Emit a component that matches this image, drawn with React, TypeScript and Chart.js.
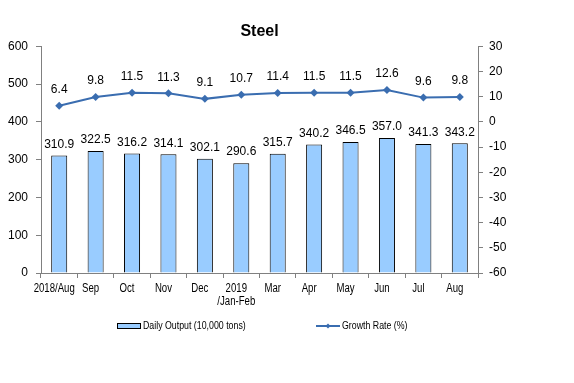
import React, { useEffect, useRef } from "react";
import { Chart, registerables } from "chart.js";

Chart.register(...registerables);

const categories: (string | string[])[] = [
  "2018/Aug", "Sep", "Oct", "Nov", "Dec", ["2019", "/Jan-Feb"],
  "Mar", "Apr", "May", "Jun", "Jul", "Aug",
];
const dailyOutput = [310.9, 322.5, 316.2, 314.1, 302.1, 290.6, 315.7, 340.2, 346.5, 357.0, 341.3, 343.2];
const growthRate = [6.4, 9.8, 11.5, 11.3, 9.1, 10.7, 11.4, 11.5, 11.5, 12.6, 9.6, 9.8];
const barLabel = "Daily Output (10,000 tons)";
const lineLabel = "Growth Rate (%)";

const FONT = "Arial, 'Liberation Sans', sans-serif";
const BAR_COLOR = "#99CCFF";
const LINE_COLOR = "#3A6DB0";
const CONDENSE = 0.8;

function drawCondensed(ctx: any, text: string, x: number, y: number, align: "left" | "center") {
  ctx.save();
  ctx.translate(x, y);
  ctx.scale(CONDENSE, 1);
  ctx.textAlign = align;
  ctx.fillText(text, 0, 0);
  ctx.restore();
}

const labelsPlugin = {
  id: "valueLabels",
  afterDatasetsDraw(chart: any) {
    const ctx = chart.ctx;
    ctx.save();
    ctx.fillStyle = "#000";
    ctx.font = `12px ${FONT}`;
    ctx.textAlign = "center";
    ctx.textBaseline = "middle";
    const barMeta = chart.getDatasetMeta(0);
    barMeta.data.forEach((el: any, i: number) => {
      ctx.fillText(dailyOutput[i].toFixed(1), el.x, el.y - 11);
    });
    const lineMeta = chart.getDatasetMeta(1);
    lineMeta.data.forEach((el: any, i: number) => {
      ctx.fillText(growthRate[i].toFixed(1), el.x, el.y - 16);
    });
    // category labels (condensed, like the original)
    const xs = chart.scales.x;
    ctx.font = `12px ${FONT}`;
    categories.forEach((lab, i) => {
      const lines = Array.isArray(lab) ? lab : [lab];
      const cx = xs.getPixelForTick(i) - 5;
      lines.forEach((ln, j) => {
        drawCondensed(ctx, ln, cx, xs.top + 16 + j * 13, "center");
      });
    });
    ctx.restore();
  },
};

const legendPlugin = {
  id: "customLegend",
  afterDraw(chart: any) {
    const ctx = chart.ctx;
    ctx.save();
    const y = 326;
    ctx.fillStyle = BAR_COLOR;
    ctx.strokeStyle = "#000";
    ctx.lineWidth = 1;
    ctx.fillRect(117.5, y - 2.5, 23, 5);
    ctx.strokeRect(117.5, y - 2.5, 23, 5);
    ctx.fillStyle = "#000";
    ctx.font = `11px ${FONT}`;
    ctx.textBaseline = "middle";
    drawCondensed(ctx, barLabel, 143, y, "left");
    ctx.strokeStyle = LINE_COLOR;
    ctx.lineWidth = 2;
    ctx.beginPath();
    ctx.moveTo(316, y);
    ctx.lineTo(340, y);
    ctx.stroke();
    ctx.fillStyle = LINE_COLOR;
    ctx.beginPath();
    ctx.moveTo(328, y - 2.5);
    ctx.lineTo(330.5, y);
    ctx.lineTo(328, y + 2.5);
    ctx.lineTo(325.5, y);
    ctx.closePath();
    ctx.fill();
    ctx.fillStyle = "#000";
    drawCondensed(ctx, lineLabel, 342, y, "left");
    ctx.restore();
  },
};

export default function App() {
  const ref = useRef<HTMLCanvasElement>(null);
  useEffect(() => {
    if (!ref.current) return;
    const chart = new Chart(ref.current, {
      data: {
        labels: categories,
        datasets: [
          {
            type: "bar",
            label: barLabel,
            data: dailyOutput,
            backgroundColor: BAR_COLOR,
            borderColor: "#000",
            borderWidth: 1,
            barPercentage: 0.44,
            categoryPercentage: 1,
            yAxisID: "y",
            order: 2,
          },
          {
            type: "line",
            label: lineLabel,
            data: growthRate,
            borderColor: LINE_COLOR,
            backgroundColor: LINE_COLOR,
            borderWidth: 2,
            pointStyle: "rectRot",
            pointRadius: 4,
            pointBorderWidth: 0,
            yAxisID: "y1",
            order: 1,
          },
        ],
      } as any,
      options: {
        animation: false,
        responsive: false,
        layout: { padding: { left: 0, right: 56, top: 0, bottom: 0 } },
        plugins: {
          legend: { display: false },
          tooltip: { enabled: false },
          title: {
            display: true,
            text: "Steel",
            fullSize: false,
            color: "#000",
            font: { family: FONT, size: 16, weight: "bold" },
            padding: { top: 22, bottom: 5 },
          },
        },
        scales: {
          x: {
            offset: true,
            grid: {
              offset: true,
              drawOnChartArea: false,
              drawTicks: true,
              tickLength: 5,
              color: "#808080",
            },
            border: { color: "#808080" },
            ticks: { display: false, autoSkip: false },
            afterFit: (s: any) => {
              s.height = 110;
            },
          },
          y: {
            position: "left",
            min: 0,
            max: 600,
            ticks: {
              stepSize: 100,
              color: "#000",
              font: { family: FONT, size: 12 },
              padding: 8,
            },
            grid: { drawOnChartArea: false, tickLength: 5, color: "#808080" },
            border: { color: "#808080" },
            afterFit: (s: any) => {
              s.width = 41;
            },
          },
          y1: {
            position: "right",
            min: -60,
            max: 30,
            ticks: {
              stepSize: 10,
              color: "#000",
              font: { family: FONT, size: 12 },
              padding: 6,
            },
            grid: { drawOnChartArea: false, tickLength: 5, color: "#808080" },
            border: { color: "#808080" },
            afterFit: (s: any) => {
              s.width = 40;
            },
          },
        },
      } as any,
      plugins: [labelsPlugin, legendPlugin],
    });
    return () => chart.destroy();
  }, []);
  return (
    <div style={{ position: "fixed", left: 0, top: 0, width: 574, height: 383, background: "#fff" }}>
      <canvas ref={ref} width={574} height={383} style={{ width: 574, height: 383 }} />
    </div>
  );
}
